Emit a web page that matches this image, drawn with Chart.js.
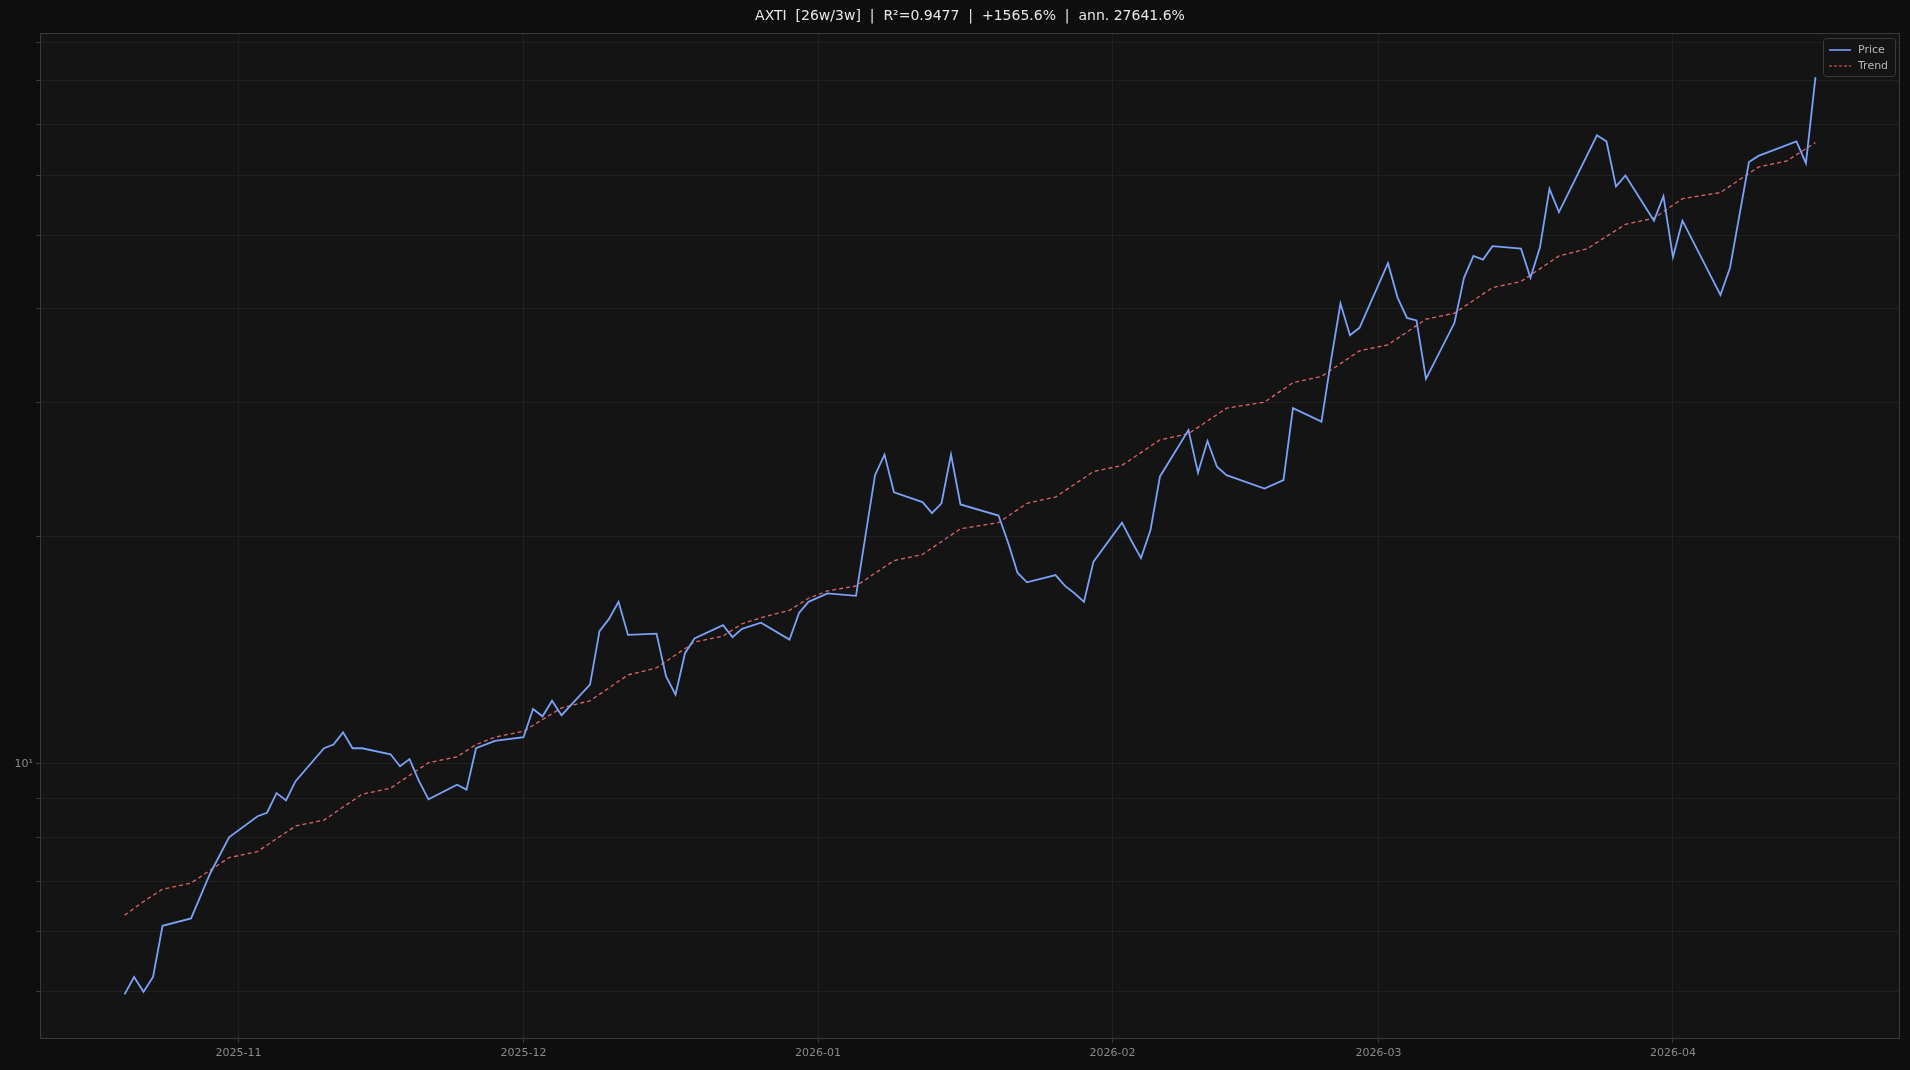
<!DOCTYPE html>
<html><head><meta charset="utf-8">
<script src="https://cdn.jsdelivr.net/npm/chart.js@4"></script>
<style>html,body{margin:0;background:#0e0e0e;}#w{width:1910px;height:1070px;}</style>
</head><body><div id="w"><canvas id="c"></canvas></div>
<script>
// days since 2025-11-01
const priceDays=[-12,-11,-10,-9,-8,-5,-3,-1,2,3,4,5,6,9,10,11,12,13,16,17,18,19,20,23,24,25,27,30,31,32,33,34,37,38,39,40,41,44,45,46,47,48,51,52,53,55,58,59,60,62,65,67,68,69,72,73,74,75,76,80,81,82,83,86,87,88,89,90,93,94,95,96,97,100,101,102,103,104,108,110,111,114,115,116,117,118,121,122,123,124,125,128,129,130,131,132,135,136,137,138,139,143,144,145,146,149,150,151,152,156,157,159,160,164,165,166];
const priceVals=[4.96,5.23,5.00,5.23,6.11,6.25,7.16,8.00,8.53,8.62,9.15,8.95,9.49,10.49,10.61,11.01,10.49,10.49,10.30,9.93,10.15,9.49,8.98,9.39,9.25,10.49,10.73,10.85,11.82,11.56,12.12,11.60,12.73,14.98,15.55,16.38,14.81,14.87,13.06,12.35,14.01,14.65,15.26,14.71,15.09,15.37,14.60,15.84,16.38,16.81,16.68,24.08,25.64,22.86,22.19,21.46,22.11,25.64,22.03,21.30,19.64,17.90,17.38,17.77,17.19,16.81,16.38,18.51,20.84,19.71,18.71,20.38,23.99,27.62,24.26,26.72,24.71,24.08,23.12,23.72,29.53,28.35,34.12,40.61,36.88,37.71,45.90,41.38,38.86,38.57,32.28,38.29,43.90,46.94,46.42,48.35,48.00,43.90,48.17,57.56,53.63,67.75,66.51,57.99,59.96,52.25,56.29,46.77,52.25,41.69,45.23,62.47,63.63,66.51,62.24,80.9];
const trendDays=[-12,-10,-8,-5,-1,2,6,9,13,16,20,23,25,27,30,34,37,41,44,48,51,53,55,58,60,62,65,69,72,76,80,83,86,90,93,97,100,104,108,111,114,118,121,125,128,132,135,139,142,146,149,152,156,160,163,166];
const trendVals=[6.31,6.58,6.83,6.96,7.52,7.66,8.28,8.43,9.12,9.29,10.04,10.22,10.61,10.85,11.05,11.86,12.12,13.11,13.40,14.49,14.76,15.32,15.61,15.96,16.56,16.93,17.19,18.57,18.92,20.46,20.84,22.11,22.53,24.35,24.81,26.82,27.32,29.53,30.08,31.92,32.52,35.16,35.81,38.71,39.43,42.62,43.42,46.94,48.00,51.68,52.65,55.87,56.92,61.52,62.67,66.27];
const xTickDays=[0,30,61,92,120,151];
const xTickLabels=['2025-11','2025-12','2026-01','2026-02','2026-03','2026-04'];
const yTicks=[5,6,7,8,9,10,20,30,40,50,60,70,80,90];
const titleText='AXTI  [26w/3w]  |  R²=0.9477  |  +1565.6%  |  ann. 27641.6%';

const priceData=priceDays.map((d,i)=>({x:d,y:priceVals[i]}));
const trendData=trendDays.map((d,i)=>({x:d,y:trendVals[i]}));

const deco={id:'deco',
 beforeDraw(ch){const c=ch.ctx,a=ch.chartArea;c.save();c.fillStyle='#0e0e0e';c.fillRect(0,0,ch.width,ch.height);
  c.fillStyle='#141414';c.fillRect(a.left,a.top,a.right-a.left,a.bottom-a.top);c.restore();},
 afterDraw(ch){const c=ch.ctx,a=ch.chartArea;c.save();
  c.strokeStyle='#3a3a3a';c.lineWidth=1;c.strokeRect(a.left+0.5,a.top+0.5,a.right-a.left-1,a.bottom-a.top-1);
  c.fillStyle='#e6e6e6';c.font='14px "DejaVu Sans"';c.textAlign='center';c.textBaseline='middle';
  c.fillText(titleText,(a.left+a.right)/2,16);
  // legend
  const lx=a.right-77,ly=a.top+5,lw=72,lh=38;
  c.fillStyle='rgba(20,20,20,0.85)';c.strokeStyle='#3a3a3a';
  c.beginPath();c.roundRect(lx+0.5,ly+0.5,lw,lh,3);c.fill();c.stroke();
  c.lineWidth=1.6;c.strokeStyle='#7aa2f7';c.beginPath();c.moveTo(lx+6,ly+12);c.lineTo(lx+28,ly+12);c.stroke();
  c.lineWidth=1.2;c.strokeStyle='#e06666';c.setLineDash([3,2]);c.beginPath();c.moveTo(lx+6,ly+28);c.lineTo(lx+28,ly+28);c.stroke();c.setLineDash([]);
  c.fillStyle='#b8b8b8';c.font='11px "DejaVu Sans"';c.textAlign='left';
  c.fillText('Price',lx+35,ly+12);c.fillText('Trend',lx+35,ly+28);
  c.restore();}};

new Chart(document.getElementById('c'),{
 type:'line',
 data:{datasets:[
  {label:'Price',data:priceData,borderColor:'#7aa2f7',borderWidth:1.8,pointRadius:0,tension:0,fill:false},
  {label:'Trend',data:trendData,borderColor:'#e06666',borderWidth:1.3,borderDash:[4,3],pointRadius:0,tension:0,fill:false}
 ]},
 plugins:[deco],
 options:{responsive:true,maintainAspectRatio:false,animation:false,
  layout:{padding:{top:33,right:10,left:0,bottom:0}},
  plugins:{legend:{display:false},title:{display:false},tooltip:{enabled:false}},
  scales:{
   x:{type:'linear',min:-20.9,max:174.9,
    afterBuildTicks(s){s.ticks=xTickDays.map(v=>({value:v}));},
    afterFit(s){s.height=31;},
    grid:{color:'#202020',tickColor:'#3a3a3a',tickLength:4},border:{display:false},
    ticks:{color:'#8a8a8a',font:{size:11,family:'DejaVu Sans'},maxRotation:0,autoSkip:false,padding:4,
     callback(v){const i=xTickDays.indexOf(v);return i>=0?xTickLabels[i]:'';}}},
   y:{type:'logarithmic',min:4.33,max:92.5,
    afterBuildTicks(s){s.ticks=yTicks.map(v=>({value:v}));},
    afterFit(s){s.width=40;},
    grid:{color:'#202020',tickColor:'#3a3a3a',tickLength:4},border:{display:false},
    ticks:{color:'#8a8a8a',font:{size:11,family:'DejaVu Sans'},autoSkip:false,padding:3,
     callback(v){return v===10?'10¹':'';}}}
  }}
});
</script></body></html>
